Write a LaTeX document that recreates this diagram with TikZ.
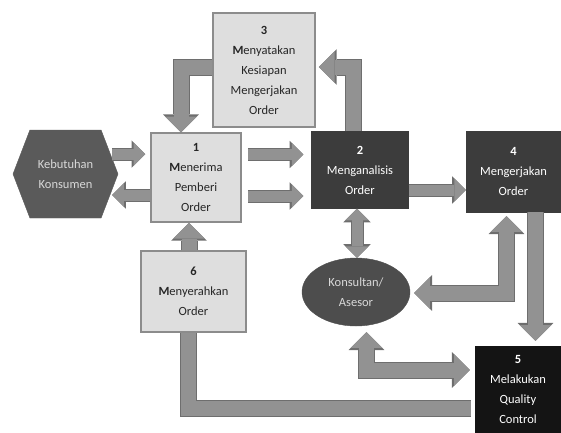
\documentclass[tikz,border=0pt]{standalone}
\usepackage{fontspec}
\setmainfont{Carlito}
\usetikzlibrary{shapes.symbols,shapes.geometric,arrows.meta}
\definecolor{boxlight}{HTML}{DEDEDE}
\definecolor{boxedge}{HTML}{8C8C8C}
\definecolor{boxdark}{HTML}{3C3C3C}
\definecolor{boxblack}{HTML}{141414}
\definecolor{hexgray}{HTML}{5A5A5A}
\definecolor{ovalgray}{HTML}{4D4D4D}
\definecolor{arrowgray}{HTML}{929292}
\definecolor{arrowedge}{HTML}{6E6E6E}

\begin{document}
\begin{tikzpicture}[x=1pt, y=-1pt, font=\fontsize{12.5}{20}\selectfont,
        >={Triangle[length=0pt 1.05, width=0pt 2.1, line width=0pt]},
        main/.style = {draw=boxedge, line width=1.5pt, fill=boxlight, rectangle, align=center, inner sep=0pt, text=black!85},
        dark/.style = {draw=boxdark, fill=boxdark, rectangle, align=center, inner sep=0pt, text=white},
        flow/.style = {line width=11pt, draw=arrowgray, preaction={draw=arrowedge, line width=13pt}},
        bigflow/.style = {line width=15pt, draw=arrowgray, preaction={draw=arrowedge, line width=17pt}}]
    \useasboundingbox (0,0) rectangle (561,432);
    \node[main, minimum width=102pt, minimum height=114pt] (siap) at (264,70) {\textbf{3}\\\textbf{M}enyatakan\\Kesiapan\\Mengerjakan\\Order};
    \node[signal, signal to=west and east, signal pointer angle=138, fill=hexgray, draw=hexgray, text=white!85!black, align=center, minimum width=105pt, minimum height=88pt] (butuh) at (65.5,174) {Kebutuhan\\Konsumen};
    \node[main, minimum width=90pt, minimum height=89pt] (terima) at (196,177.5) {\textbf{1}\\\textbf{M}enerima\\Pemberi\\Order};
    \node[dark, minimum width=97pt, minimum height=77pt] (analisis) at (360,170) {\textbf{2}\\Menganalisis\\Order};
    \node[dark, minimum width=95pt, minimum height=81pt] (kerja) at (513.5,171.5) {\textbf{4}\\Mengerjakan\\Order};
    \node[main, minimum width=105pt, minimum height=81pt] (serah) at (193.5,291.5) {\textbf{6}\\\textbf{M}enyerahkan\\Order};
    \node[ellipse, fill=ovalgray, draw=ovalgray, text=white!85!black, align=center, inner sep=0pt, minimum width=108pt, minimum height=68pt] (konsultan) at (356,292) {Konsultan/\\Asesor};
    \node[dark, fill=boxblack, draw=boxblack, minimum width=86pt, minimum height=86pt] (qc) at (518,389) {\textbf{5}\\Melakukan\\Quality\\Control};

    \draw[flow, ->] ([xshift=-6pt, yshift=20pt]butuh.east) -- ([xshift=-5pt, yshift=23.5pt]terima.west);
    \draw[flow, ->] ([yshift=-17.5pt]terima.west) -- ([xshift=-6pt, yshift=-21pt]butuh.east);
    \draw[flow, ->] ([xshift=6pt, yshift=23pt]terima.east) -- ([xshift=-8pt, yshift=15.5pt]analisis.west);
    \draw[flow, ->] ([xshift=6pt, yshift=-18.5pt]terima.east) -- ([xshift=-8pt, yshift=-26pt]analisis.west);
    \draw[flow, ->] ([yshift=-20pt]analisis.east) -- ([yshift=-18.5pt]kerja.west);
    \draw[flow, <->] ([xshift=-3pt]analisis.south) -- ([xshift=1pt]konsultan.north);
    \draw[bigflow, ->] ([xshift=-7pt]analisis.north) |- ([xshift=3pt, yshift=3pt]siap.east);
    \draw[bigflow, ->] ([yshift=3pt]siap.west) -| ([xshift=-15pt]terima.north);
    \draw[bigflow, ->] ([xshift=-4.5pt]serah.north) -- ([xshift=-7pt]terima.south);
    \draw[bigflow, <->] ([xshift=-7pt, yshift=-4pt]kerja.south) |- ([xshift=4pt, yshift=-1pt]konsultan.east);
    \draw[bigflow, ->] ([xshift=22pt]kerja.south) -- ([xshift=17.5pt, yshift=5pt]qc.north);
    \draw[bigflow, <->] ([xshift=10.5pt, yshift=-6pt]konsultan.south) |- ([xshift=-5pt, yshift=19pt]qc.west);
    \draw[bigflow] ([xshift=-4pt, yshift=-19pt]qc.west) -| ([xshift=-5pt]serah.south);
\end{tikzpicture}
\end{document}
